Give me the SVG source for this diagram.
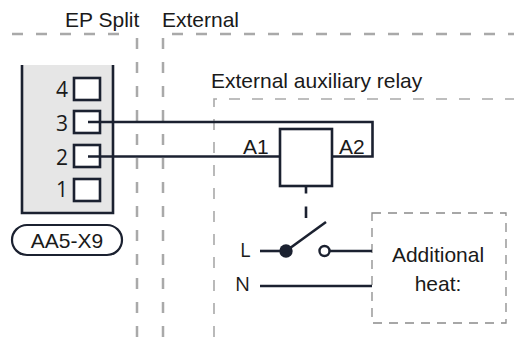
<svg xmlns="http://www.w3.org/2000/svg" width="514" height="337" viewBox="0 0 514 337">
<style>
  text { font-family: "Liberation Sans", Arial, sans-serif; fill: #1a1a1a; }
  .t { font-size: 21px; }
  .d { font-family: "Open Sans", "Noto Sans", sans-serif; font-size: 21px; }
  .ln { font-family: "Open Sans", "Noto Sans", sans-serif; font-size: 20px; }
  .zone { fill: none; stroke: #a9a9a9; stroke-width: 2.5; stroke-dasharray: 11 13; }
  .zone2 { fill: none; stroke: #a9a9a9; stroke-width: 1.6; stroke-dasharray: 11 12; }
  .heatbox { fill: none; stroke: #8a8a8a; stroke-width: 1.3; stroke-dasharray: 9 7; }
  .wire { fill: none; stroke: #1b2130; stroke-width: 2.6; }
  .term { fill: #ffffff; stroke: #1b2130; stroke-width: 2.6; }
</style>
<rect width="514" height="337" fill="#ffffff"/>

<g id="zones">
  <line class="zone" x1="12" y1="34" x2="130" y2="34"/>
  <line class="zone" x1="137" y1="38" x2="137" y2="337"/>
  <path class="zone" d="M163 337 V34 H514"/>
  <text class="t" x="65" y="27">EP Split</text>
  <text class="t" x="162" y="27">External</text>
</g>

<g id="relay-zone">
  <path class="zone2" d="M214 337 V99 H514"/>
  <text class="t" x="211" y="88">External auxiliary relay</text>
</g>

<g id="terminal-AA5-X9">
  <path d="M22 65 V213 H113 V65 Z" fill="#e6e6e6" stroke="none"/>
  <path d="M22 65 V213 H113 V65" fill="none" stroke="#1b2130" stroke-width="2.6"/>
  <rect class="term" x="74" y="78" width="26" height="22"/>
  <rect class="term" x="74" y="111" width="26" height="22"/>
  <rect class="term" x="74" y="145" width="26" height="22"/>
  <rect class="term" x="74" y="179" width="26" height="22"/>
  <text class="d" x="68" y="97" text-anchor="end">4</text>
  <text class="d" x="68" y="131" text-anchor="end">3</text>
  <text class="d" x="68" y="164.5" text-anchor="end">2</text>
  <text class="d" x="68" y="197" text-anchor="end">1</text>
</g>

<g id="label-AA5-X9">
  <rect x="12" y="225" width="110" height="30" rx="15" fill="#ffffff" stroke="#1b2130" stroke-width="2.2"/>
  <text class="t" x="67" y="248" text-anchor="middle">AA5-X9</text>
</g>

<g id="relay">
  <rect x="280" y="129" width="52" height="57" fill="#ffffff" stroke="#1b2130" stroke-width="2.6"/>
  <text class="t" x="243" y="154">A1</text>
  <text class="t" x="339" y="154">A2</text>
</g>

<g id="switch">
  <circle cx="286" cy="251" r="6.7" fill="#1b2130"/>
  <circle cx="324.5" cy="251" r="5" fill="#ffffff" stroke="#1b2130" stroke-width="2.4"/>
  <line class="wire" x1="286" y1="251" x2="326" y2="222"/>
  <text class="ln" x="240" y="257">L</text>
  <text class="ln" x="235" y="291">N</text>
</g>

<g id="additional-heat">
  <rect class="heatbox" x="372" y="213" width="134" height="110"/>
  <text class="t" x="438" y="262" text-anchor="middle">Additional</text>
  <text class="t" x="438" y="291" text-anchor="middle">heat:</text>
</g>

<g id="connectors">
  <path class="wire" d="M88 122 H372.5 V156.5 H332"/>
  <path class="wire" d="M88 156.5 H280"/>
  <line class="wire" x1="306" y1="186" x2="306" y2="193.5"/>
  <line class="wire" x1="306" y1="206.5" x2="306" y2="218"/>
  <line class="wire" x1="260" y1="251" x2="286" y2="251"/>
  <line class="wire" x1="329.5" y1="251" x2="372" y2="251"/>
  <line class="wire" x1="260" y1="286" x2="372" y2="286"/>
</g>
</svg>
